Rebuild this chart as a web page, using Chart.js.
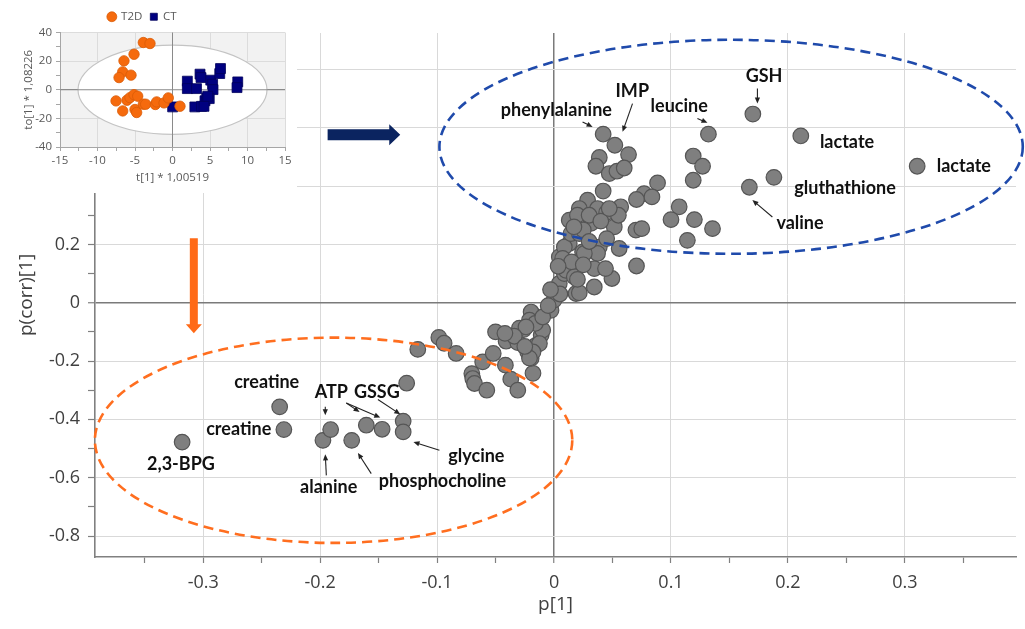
<!DOCTYPE html>
<html><head><meta charset="utf-8">
<script src="https://cdn.jsdelivr.net/npm/chart.js@4.4.1/dist/chart.umd.min.js"></script>
<style>
html,body{margin:0;padding:0;background:#fff;}
#wrap{position:relative;width:1025px;height:629px;overflow:hidden;}
#main{position:absolute;left:0;top:0;}
#insetBox{position:absolute;left:0;top:0;width:297px;height:193px;background:#fff;}
</style></head><body>
<div id="wrap">
<canvas id="main" width="1025" height="629"></canvas>
<div id="insetBox"><canvas id="inset" width="297" height="193"></canvas></div>
</div>
<script>
// ---------- Main loadings plot data: p[1] (x) and p(corr)[1] (y) ----------
const loadX = [-0.318,-0.2346,-0.231,-0.1976,-0.191,-0.173,-0.1605,-0.147,-0.129,-0.129,
  -0.126,-0.1165,-0.0985,-0.094,-0.0837,-0.0703,-0.0695,-0.068,-0.0575,-0.061,
  -0.052,-0.050,-0.0416,-0.037,-0.031,-0.041,-0.031,-0.026,-0.0296,-0.018,
  -0.0196,-0.0225,-0.011,-0.0097,-0.0154,-0.0196,-0.021,-0.016,-0.0026,0.000,
  0.0045,0.0088,0.0188,-0.024,-0.0125,-0.018,-0.0097,-0.021,
  0.042,0.052,0.0637,0.0387,0.0358,0.0472,0.0538,0.06,0.042,0.0885,
  0.077,0.0837,0.0705,0.0287,0.057,0.0372,0.0216,0.013,0.0316,0.0515,
  0.07,0.075,0.013,0.0387,0.0557,0.0045,0.0244,0.0372,0.0102,0.0344,
  0.0495,0.0344,0.0216,0.0705,0.132,0.119,0.127,0.119,0.107,0.10,
  0.12,0.1355,0.114,0.170,0.211,0.3105,0.188,0.167,
  0.044,0.0173,0.0088,0.0074,0.0259,0.0145,0.0216,0.02,0.03,0.045,
  0.025,0.045,0.03,0.015,0.025,0.02,0.005,0.04,0.055,0.017,
  0.0472,0.0035,-0.005,-0.034,-0.025,-0.042,-0.003];
const loadY = [-0.478,-0.357,-0.435,-0.472,-0.435,-0.472,-0.42,-0.434,-0.406,-0.443,
  -0.276,-0.16,-0.119,-0.139,-0.174,-0.243,-0.26,-0.277,-0.30,-0.203,
  -0.174,-0.100,-0.214,-0.262,-0.30,-0.132,-0.137,-0.092,-0.087,-0.242,
  -0.191,-0.169,-0.111,-0.094,-0.146,-0.032,-0.060,-0.071,-0.026,0.009,
  0.066,0.10,0.0316,-0.083,-0.14,-0.169,-0.049,-0.19,
  0.578,0.54,0.508,0.498,0.468,0.443,0.451,0.462,0.383,0.411,
  0.374,0.363,0.354,0.352,0.329,0.323,0.323,0.283,0.272,0.26,
  0.249,0.254,0.203,0.191,0.186,0.157,0.174,0.169,0.111,0.117,
  0.083,0.054,0.034,0.126,0.578,0.503,0.468,0.42,0.329,0.285,
  0.285,0.254,0.214,0.647,0.572,0.468,0.43,0.396,
  0.117,0.089,0.191,0.152,0.169,0.237,0.237,0.30,0.30,0.31,
  0.25,0.22,0.21,0.14,0.13,0.08,0.03,0.28,0.30,0.26,
  0.323,0.125,-0.01,-0.115,-0.15,-0.105,0.045];
const xTickValues = [-0.35,-0.3,-0.25,-0.2,-0.15,-0.1,-0.05,0,0.05,0.1,0.15,0.2,0.25,0.3,0.35];
const yTickValues = [-0.8,-0.7,-0.6,-0.5,-0.4,-0.3,-0.2,-0.1,0,0.1,0.2,0.3,0.4,0.5,0.6,0.7,0.8,0.9];

// metabolite annotation labels (data units)
const labelNames = ['phenylalanine','IMP','leucine','GSH','lactate','lactate','gluthathione','valine',
  'creatine','creatine','2,3-BPG','ATP','GSSG','glycine','phosphocholine','alanine'];
const labelX = [0.002,0.0669,0.107,0.1796,0.2505,0.3504,0.2488,0.2103,
  -0.2457,-0.2696,-0.319,-0.1905,-0.1515,-0.0664,-0.0954,-0.1927];
const labelY = [0.660,0.7256,0.674,0.777,0.5506,0.468,0.393,0.273,
  -0.2727,-0.434,-0.554,-0.307,-0.307,-0.5266,-0.6123,-0.633];

// small pointer arrows (data units)
const arrowFromX = [0.0244,0.0671,0.1226,0.1739,0.1867,-0.1956,-0.1776,-0.1776,-0.1506,-0.098,-0.1563,-0.1947];
const arrowFromY = [0.620,0.683,0.632,0.735,0.294,-0.357,-0.344,-0.344,-0.332,-0.506,-0.586,-0.592];
const arrowToX   = [0.033,0.0586,0.1312,0.1739,0.1696,-0.1956,-0.1663,-0.1486,-0.1315,-0.1202,-0.1677,-0.1956];
const arrowToY   = [0.603,0.586,0.617,0.683,0.352,-0.386,-0.375,-0.394,-0.3825,-0.4775,-0.515,-0.52];

// dashed group ellipses (data units): upregulated (blue) / downregulated (orange)
const ellipseCX = [0.1514,-0.1885];
const ellipseCY = [0.5348,-0.4717];
const ellipseRX = [0.2494,0.2041];
const ellipseRY = [0.367,0.352];
const ellipseColor = ['#1f4aab','#ff6e1f'];

// big block arrows (data units)
const bigArrowFromX = [-0.1936,-0.308];
const bigArrowFromY = [0.576,0.221];
const bigArrowToX   = [-0.1315,-0.308];
const bigArrowToY   = [0.576,-0.105];
const bigArrowColor = ['#0b2460','#ff6a17'];

// ---------- Inset score plot data ----------
const t2dX = [-3.89,-3.0,-5.13,-6.47,-6.64,-7.13,-5.53,-7.53,-6.64,-6.07,-5.67,-5.13,-4.64,-5.0,-4.78,-3.89,-3.58,-2.29,-2.11,-1.13,-0.56,1.0];
const t2dY = [33.0,32.3,24.8,20.2,12.5,8.5,10.2,-7.8,-14.8,-7.3,-5.5,-3.4,-4.5,-13.8,-15.9,-10.1,-10.1,-10.3,-8.5,-9.2,-5.7,-11.5];
const ctX = [0.02,1.98,1.98,3.2,3.67,3.8,5.1,5.35,5.4,6.3,6.4,8.7,8.6,2.98,3.87,4.33,4.56,4.9,4.2,4.7];
const ctY = [-12,6,0.8,0.8,10.9,8.5,6.7,3.9,0.1,11.3,14.8,5.5,1.5,-12,-11.6,-7.7,-5.7,-6.2,-11.6,-4.5];
const insetXTicks = [-15,-12.5,-10,-7.5,-5,-2.5,0,2.5,5,7.5,10,12.5,15];
const insetYTicks = [-40,-30,-20,-10,0,10,20,30,40];
const insetEllipse = {cx:0, cy:0, rx:12.6, ry:31.2};

// ---------- helpers ----------
const isMajor = (v, step) => Math.abs(v/step - Math.round(v/step)) < 1e-6;
const fmt = v => { const r = Math.round(v*10)/10; return r === 0 ? '0' : String(r); };
const tickFont = {family:'Open Sans', size:18};

function drawFatArrow(ctx, x1, y1, x2, y2, w, hw, hl, color){
  const ang = Math.atan2(y2-y1, x2-x1);
  const len = Math.hypot(x2-x1, y2-y1);
  ctx.save();
  ctx.translate(x1, y1); ctx.rotate(ang);
  ctx.fillStyle = color;
  ctx.beginPath();
  ctx.moveTo(0, -w/2); ctx.lineTo(len-hl, -w/2); ctx.lineTo(len-hl, -hw/2);
  ctx.lineTo(len, 0); ctx.lineTo(len-hl, hw/2); ctx.lineTo(len-hl, w/2); ctx.lineTo(0, w/2);
  ctx.closePath(); ctx.fill();
  ctx.restore();
}
function drawThinArrow(ctx, x1, y1, x2, y2){
  const ang = Math.atan2(y2-y1, x2-x1);
  const hl = 6, hw = 2.6;
  ctx.save();
  ctx.strokeStyle = '#222'; ctx.fillStyle = '#222'; ctx.lineWidth = 1.1;
  ctx.beginPath(); ctx.moveTo(x1, y1);
  ctx.lineTo(x2 - Math.cos(ang)*hl*0.8, y2 - Math.sin(ang)*hl*0.8); ctx.stroke();
  ctx.translate(x2, y2); ctx.rotate(ang);
  ctx.beginPath(); ctx.moveTo(0,0); ctx.lineTo(-hl,-hw); ctx.lineTo(-hl,hw); ctx.closePath(); ctx.fill();
  ctx.restore();
}

const decor = {
  id:'decor',
  afterDatasetsDraw(chart){
    const {ctx, scales:{x, y}} = chart;
    for (let i = 0; i < ellipseCX.length; i++){
      const cx = x.getPixelForValue(ellipseCX[i]), cy = y.getPixelForValue(ellipseCY[i]);
      const rx = Math.abs(x.getPixelForValue(ellipseCX[i]+ellipseRX[i]) - cx);
      const ry = Math.abs(y.getPixelForValue(ellipseCY[i]+ellipseRY[i]) - cy);
      ctx.save();
      ctx.beginPath(); ctx.setLineDash([10,6]); ctx.lineWidth = 2.6; ctx.strokeStyle = ellipseColor[i];
      ctx.ellipse(cx, cy, rx, ry, 0, 0, Math.PI*2); ctx.stroke();
      ctx.restore();
    }
    const bw = [11, 8], bhw = [21, 16], bhl = [11, 9];
    for (let i = 0; i < bigArrowFromX.length; i++){
      drawFatArrow(ctx, x.getPixelForValue(bigArrowFromX[i]), y.getPixelForValue(bigArrowFromY[i]),
        x.getPixelForValue(bigArrowToX[i]), y.getPixelForValue(bigArrowToY[i]), bw[i], bhw[i], bhl[i], bigArrowColor[i]);
    }
    for (let i = 0; i < arrowFromX.length; i++){
      drawThinArrow(ctx, x.getPixelForValue(arrowFromX[i]), y.getPixelForValue(arrowFromY[i]),
        x.getPixelForValue(arrowToX[i]), y.getPixelForValue(arrowToY[i]));
    }
    ctx.save();
    ctx.font = 'bold 18px Lato';
    ctx.fillStyle = '#111111'; ctx.textAlign = 'center'; ctx.textBaseline = 'middle';
    for (let i = 0; i < labelNames.length; i++){
      ctx.fillText(labelNames[i], x.getPixelForValue(labelX[i]), y.getPixelForValue(labelY[i]));
    }
    ctx.restore();
  }
};

const mainGridColor = (c, step) => {
  if (!c.tick) return 'rgba(0,0,0,0)';
  const v = c.tick.value;
  if (Math.abs(v) < 1e-9) return '#7a7a7a';
  return isMajor(v, step) ? '#d9d9d9' : 'rgba(0,0,0,0)';
};
const zeroWidth = c => (c.tick && Math.abs(c.tick.value) < 1e-9) ? 1.5 : 1;

new Chart(document.getElementById('main'), {
  type:'scatter',
  data:{datasets:[{
    data: loadX.map((v, i) => ({x:v, y:loadY[i]})),
    pointRadius:7.8, pointHoverRadius:7.8,
    backgroundColor:'#7f7f7f', borderColor:'#555555', borderWidth:1.2
  }]},
  options:{
    responsive:false, animation:false, events:[],
    layout:{padding:{top:33, right:8, left:0, bottom:0}},
    plugins:{legend:{display:false}, tooltip:{enabled:false}},
    scales:{
      x:{
        type:'linear', min:-0.3925, max:0.395,
        afterBuildTicks: s => { s.ticks = xTickValues.map(v => ({value:v})); },
        afterFit: s => { s.height = 72; },
        ticks:{callback: v => isMajor(v, 0.1) ? fmt(v) : '', font:tickFont, color:'#404040', padding:9, maxRotation:0, autoSkip:false},
        grid:{color: c => mainGridColor(c, 0.1), lineWidth: zeroWidth, tickColor:'#808080', tickLength:6, tickWidth:1.2},
        border:{color:'#808080', width:1.6},
        title:{display:true, text:'p[1]', font:{family:'Open Sans', size:19}, color:'#404040', padding:{top:0, bottom:12.6}}
      },
      y:{
        type:'linear', min:-0.872, max:0.925,
        afterBuildTicks: s => { s.ticks = yTickValues.map(v => ({value:v})); },
        afterFit: s => { s.width = 95; },
        ticks:{callback: v => isMajor(v, 0.2) ? fmt(v) : '', font:tickFont, color:'#404040', padding:8, autoSkip:false},
        grid:{color: c => mainGridColor(c, 0.2), lineWidth: zeroWidth, tickColor:'#808080', tickLength:7, tickWidth:1.2},
        border:{color:'#808080', width:1.6},
        title:{display:true, text:'p(corr)[1]', font:{family:'Open Sans', size:19}, color:'#404040', padding:{top:15.5, bottom:0}}
      }
    }
  },
  plugins:[decor]
});

// ---------- Inset ----------
const insetDecor = {
  id:'insetDecor',
  beforeDraw(chart){
    const {ctx, chartArea:a} = chart;
    ctx.save(); ctx.fillStyle = '#f2f2f2'; ctx.fillRect(a.left, a.top, a.right-a.left, a.bottom-a.top); ctx.restore();
  },
  beforeDatasetsDraw(chart){
    const {ctx, scales:{x, y}, chartArea:a} = chart;
    const cx = x.getPixelForValue(insetEllipse.cx), cy = y.getPixelForValue(insetEllipse.cy);
    const rx = Math.abs(x.getPixelForValue(insetEllipse.cx+insetEllipse.rx) - cx);
    const ry = Math.abs(y.getPixelForValue(insetEllipse.cy+insetEllipse.ry) - cy);
    ctx.save();
    ctx.beginPath(); ctx.ellipse(cx, cy, rx, ry, 0, 0, Math.PI*2);
    ctx.fillStyle = '#ffffff'; ctx.fill();
    ctx.lineWidth = 1.2; ctx.strokeStyle = '#c4c4c4'; ctx.stroke();
    ctx.strokeStyle = '#8a8a8a'; ctx.lineWidth = 1;
    const zx = x.getPixelForValue(0), zy = y.getPixelForValue(0);
    ctx.beginPath(); ctx.moveTo(zx, a.top); ctx.lineTo(zx, a.bottom); ctx.stroke();
    ctx.beginPath(); ctx.moveTo(a.left, zy); ctx.lineTo(a.right, zy); ctx.stroke();
    ctx.restore();
  }
};
const insetGrid = (c, step) => {
  if (!c.tick) return 'rgba(0,0,0,0)';
  const v = c.tick.value;
  if (Math.abs(v) < 1e-9) return '#8a8a8a';
  return isMajor(v, step) ? '#dcdcdc' : 'rgba(0,0,0,0)';
};
const insetFont = {family:'Open Sans', size:11.5};
new Chart(document.getElementById('inset'), {
  type:'scatter',
  data:{datasets:[
    {label:'T2D', data: t2dX.map((v, i) => ({x:v, y:t2dY[i]})), pointStyle:'circle', pointRadius:5.2,
     backgroundColor:'#f56a0d', borderColor:'#d95c07', borderWidth:0.8},
    {label:'CT', data: ctX.map((v, i) => ({x:v, y:ctY[i]})), pointStyle:'rect', pointRadius:7,
     backgroundColor:'#000080', borderColor:'#00005c', borderWidth:0.8}
  ]},
  options:{
    responsive:false, animation:false, events:[],
    layout:{padding:{top:3, right:12, left:0, bottom:0}},
    plugins:{
      legend:{display:true, position:'top',
        labels:{usePointStyle:true, boxWidth:7, boxHeight:7, font:insetFont, color:'#595959', padding:8}},
      tooltip:{enabled:false}
    },
    scales:{
      x:{
        type:'linear', min:-15, max:15,
        afterBuildTicks: s => { s.ticks = insetXTicks.map(v => ({value:v})); },
        afterFit: s => { s.height = 46; },
        ticks:{callback: v => isMajor(v, 5) ? String(v) : '', font:insetFont, color:'#595959', padding:3, maxRotation:0, autoSkip:false},
        grid:{color: c => insetGrid(c, 5), tickColor:'#a6a6a6', tickLength:4},
        border:{color:'#a6a6a6', width:1},
        title:{display:true, text:'t[1] * 1,00519', font:insetFont, color:'#595959', padding:{top:0, bottom:8}}
      },
      y:{
        type:'linear', min:-40, max:40,
        afterBuildTicks: s => { s.ticks = insetYTicks.map(v => ({value:v})); },
        afterFit: s => { s.width = 60; },
        ticks:{callback: v => isMajor(v, 20) ? String(v) : '', font:insetFont, color:'#595959', padding:4, autoSkip:false},
        grid:{color: c => insetGrid(c, 20), tickColor:'#a6a6a6', tickLength:4},
        border:{color:'#a6a6a6', width:1},
        title:{display:true, text:'to[1] * 1,08226', font:insetFont, color:'#595959', padding:{top:22, bottom:0}}
      }
    }
  },
  plugins:[insetDecor]
});
</script>
</body></html>
